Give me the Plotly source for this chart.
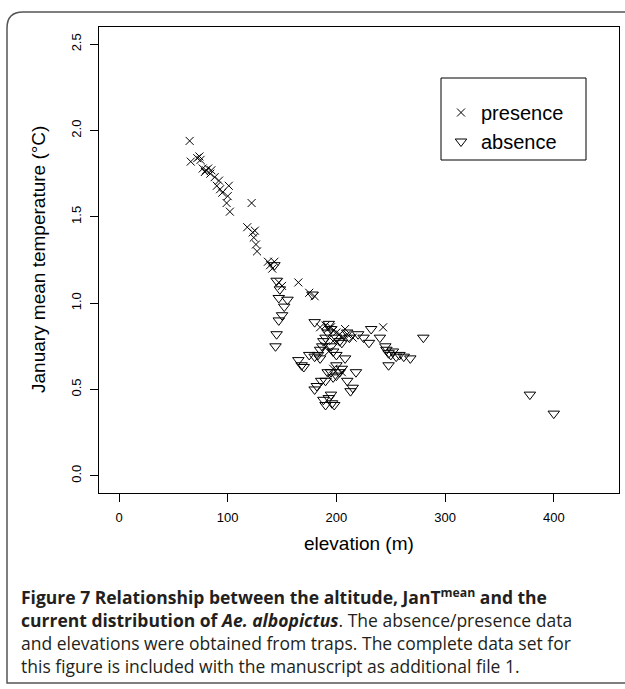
import plotly.graph_objects as go

# ---------------- data ----------------
pres_elev = [65, 66, 72, 74, 75, 77, 79, 80, 82, 84, 85, 88, 90, 92, 93, 95, 99, 100, 101, 102,
             118, 122, 123, 124, 125, 126, 127, 137, 139, 141, 143, 147, 150, 165, 175, 180,
             185, 190, 192, 195, 197, 200, 203, 205, 208, 210, 215, 197, 190, 193, 243, 197, 205]
pres_temp = [1.94, 1.82, 1.84, 1.85, 1.83, 1.78, 1.76, 1.77, 1.78, 1.75, 1.77, 1.73, 1.68, 1.71, 1.66, 1.64, 1.58, 1.62, 1.68, 1.53,
             1.44, 1.58, 1.41, 1.38, 1.42, 1.34, 1.30, 1.24, 1.22, 1.20, 1.24, 1.12, 1.10, 1.12, 1.06, 1.04,
             0.86, 0.87, 0.85, 0.86, 0.84, 0.83, 0.82, 0.80, 0.85, 0.82, 0.80, 0.78, 0.75, 0.72, 0.86, 0.62, 0.60]

abs_elev = [143, 145, 148, 147, 152, 155, 150, 147, 145, 144, 165, 168, 170,
            178, 180, 180, 183, 185, 187, 186, 182, 180, 190, 192, 195, 197, 200, 195, 193, 196, 198, 190, 188,
            205, 210, 215, 213, 218, 193, 195, 200, 203, 205, 210, 212, 220, 225, 230, 232, 240, 245, 246, 248,
            250, 252, 255, 258, 262, 268, 248, 280, 190, 192, 188, 195, 197, 200, 185, 175, 208, 200, 203,
            378, 400]
abs_temp = [1.22, 1.13, 1.08, 1.03, 0.98, 1.02, 0.93, 0.90, 0.82, 0.75, 0.67, 0.64, 0.63,
            1.05, 0.89, 0.69, 0.70, 0.73, 0.75, 0.55, 0.52, 0.50, 0.55, 0.60, 0.60, 0.57, 0.58, 0.47, 0.45, 0.42, 0.41, 0.41, 0.44,
            0.62, 0.55, 0.51, 0.49, 0.60, 0.88, 0.85, 0.80, 0.78, 0.77, 0.83, 0.80, 0.82, 0.80, 0.77, 0.85, 0.80, 0.75, 0.73, 0.71,
            0.70, 0.72, 0.69, 0.70, 0.69, 0.68, 0.64, 0.80, 0.80, 0.83, 0.78, 0.75, 0.72, 0.70, 0.68, 0.70, 0.68, 0.64, 0.60,
            0.47, 0.36]

x_ticks = [0, 100, 200, 300, 400]
y_ticks = [0.0, 0.5, 1.0, 1.5, 2.0, 2.5]
y_tick_text = ["0.0", "0.5", "1.0", "1.5", "2.0", "2.5"]

# ---------------- layout helpers ----------------
W, H = 625, 689
L, R, T, B = 99, 619, 27, 493  # plot box in pixels


def px(x):
    return (x - L) / (R - L)


def py(y):
    return (B - y) / (B - T)


fig = go.Figure()
fig.add_trace(go.Scatter(x=pres_elev, y=pres_temp, mode="markers", name="presence",
                         marker=dict(symbol="x-thin-open", size=8, color="black",
                                     line=dict(width=1, color="black"))))
fig.add_trace(go.Scatter(x=abs_elev, y=abs_temp, mode="markers", name="absence",
                         marker=dict(symbol="triangle-down-open", size=10, color="black",
                                     line=dict(width=1, color="black"))))

axis_font = dict(family="Liberation Sans, Arial, sans-serif", size=13, color="black")

fig.update_layout(
    width=W, height=H,
    margin=dict(l=L, r=W - R, t=T, b=H - B),
    paper_bgcolor="white", plot_bgcolor="white",
    showlegend=True,
    legend=dict(x=px(441), y=py(93), xanchor="left", yanchor="top",
                bgcolor="rgba(0,0,0,0)", borderwidth=0,
                font=dict(family="Liberation Sans, Arial, sans-serif", size=20, color="black"),
                itemsizing="trace", tracegroupgap=0),
    xaxis=dict(range=[-18.4, 460], tickvals=x_ticks, showgrid=False, zeroline=False,
               showline=True, mirror=True, linecolor="black", linewidth=1,
               ticks="outside", ticklen=8, tickcolor="black", tickwidth=1,
               tickfont=axis_font, ticklabelstandoff=4),
    yaxis=dict(range=[-0.1, 2.6], tickvals=y_ticks, ticktext=y_tick_text, showgrid=False, zeroline=False,
               showline=True, mirror=True, linecolor="black", linewidth=1,
               ticks="outside", ticklen=8, tickcolor="black", tickwidth=1,
               tickangle=-90, tickfont=axis_font, ticklabelstandoff=4),
)

# legend frame
fig.add_shape(type="rect", xref="paper", yref="paper",
              x0=px(441), x1=px(586), y0=py(160), y1=py(78),
              line=dict(color="black", width=1))

# outer frame with rounded top-left corner
x0, y0, x1, y1, r = 7, 12, 640, 683, 16
path = (f"M {px(x1)},{py(y0)} L {px(x0 + r)},{py(y0)} "
        f"Q {px(x0)},{py(y0)} {px(x0)},{py(y0 + r)} "
        f"L {px(x0)},{py(y1)} L {px(x1)},{py(y1)}")
fig.add_shape(type="path", xref="paper", yref="paper", path=path,
              line=dict(color="#555555", width=1.5))

# axis titles
title_font = dict(family="Liberation Sans, Arial, sans-serif", size=19, color="black")
fig.add_annotation(text="elevation (m)", xref="paper", yref="paper", x=px((L + R) / 2), y=py(543),
                   showarrow=False, font=title_font, xanchor="center", yanchor="middle")
fig.add_annotation(text="January mean temperature (°C)", xref="paper", yref="paper", x=px(38), y=py((T + B) / 2),
                   showarrow=False, font=title_font, textangle=-90, xanchor="center", yanchor="middle")

# caption (one multi-line text block)
cap_font = dict(family="Open Sans, Noto Sans, sans-serif", size=17.5, color="#231f20")
cap_lines = [
    "<b>Figure 7 Relationship between the altitude, JanT<sup>mean</sup> and the</b>",
    "<b>current distribution of <i>Ae. albopictus</i></b>. The absence/presence data",
    "and elevations were obtained from traps. The complete data set for",
    "this figure is included with the manuscript as additional file 1.",
]
fig.add_annotation(text="<br>".join(cap_lines), xref="paper", yref="paper", x=px(19), y=py(582),
                   showarrow=False, font=cap_font, xanchor="left", yanchor="top", align="left")

fig.write_html("out.html")
